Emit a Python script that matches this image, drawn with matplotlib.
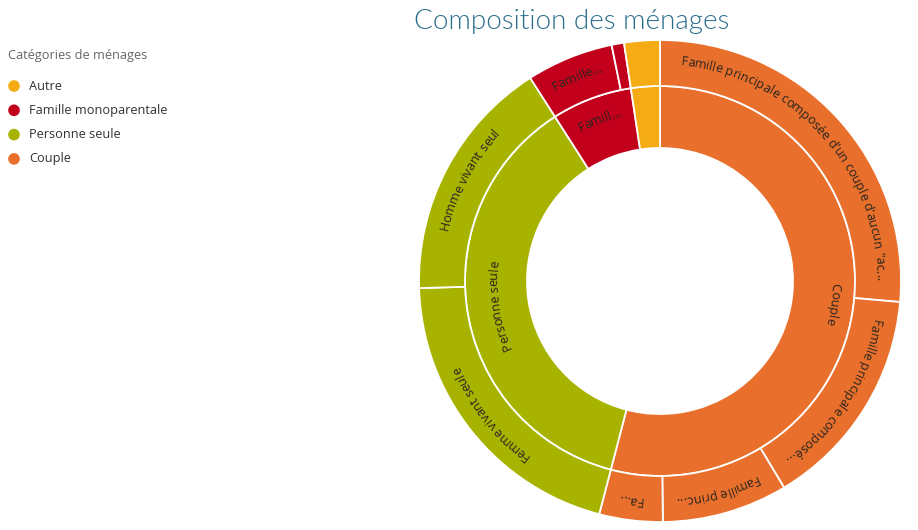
import numpy as np
import matplotlib
matplotlib.use("Agg")
import matplotlib.pyplot as plt
from matplotlib.font_manager import FontProperties, findfont, get_font
from matplotlib.textpath import TextToPath, TextPath
from matplotlib import _text_helpers

# ---------------- data ----------------
title = "Composition des ménages"
legend_title = "Catégories de ménages"
legend_labels = ["Autre", "Famille monoparentale", "Personne seule", "Couple"]

inner_labels = ["Couple", "Personne seule", "Famill...", ""]
inner_cats = ["Couple", "Personne seule", "Famille monoparentale", "Autre"]
inner_values = [54.06, 36.89, 6.66, 2.39]

outer_labels = [
    "Famille principale composée d'un couple d'aucun \"ac...",
    "Famille principale composé...",
    "Famille princ...",
    "Fa...",
    "Femme vivant seule",
    "Homme vivant seul",
    "Famille...",
    "",
    "",
]
outer_cats = ["Couple", "Couple", "Couple", "Couple",
              "Personne seule", "Personne seule",
              "Famille monoparentale", "Famille monoparentale", "Autre"]
outer_values = [26.39, 15.00, 8.42, 4.25, 20.47, 16.42, 5.83, 0.83, 2.39]

colors = {
    "Autre": "#F4AB14",
    "Famille monoparentale": "#C2001C",
    "Personne seule": "#A8B300",
    "Couple": "#E8702C",
}

# ---------------- figure ----------------
W, H = 918, 530
fig = plt.figure(figsize=(W / 100, H / 100), dpi=100)
ax = fig.add_axes([0, 0, 1, 1])

cx, cy = 660, H - 281
r_hole, r_mid, r_out = 133, 195, 241

ax.pie(inner_values, radius=r_mid, center=(cx, cy), startangle=90,
       counterclock=False, colors=[colors[c] for c in inner_cats],
       wedgeprops=dict(width=r_mid - r_hole, edgecolor="white", linewidth=1.3),
       frame=True)
ax.pie(outer_values, radius=r_out, center=(cx, cy), startangle=90,
       counterclock=False, colors=[colors[c] for c in outer_cats],
       wedgeprops=dict(width=r_out - r_mid, edgecolor="white", linewidth=1.3),
       frame=True)
ax.set_xlim(0, W)
ax.set_ylim(0, H)
ax.set_aspect("equal")
ax.axis("off")

# ---------------- curved labels ----------------
label_font = "Open Sans"
label_size = 9.2
prop = FontProperties(family=label_font, size=label_size)
px_per_pt = 100 / 72
ft = get_font(findfont(prop))
ft.set_size(TextToPath.FONT_SCALE, TextToPath.DPI)
scale = label_size / TextToPath.FONT_SCALE * px_per_pt


def glyph_layout(s):
    """Pen position, advance and left bearing (px) of each character."""
    items = list(_text_helpers.layout(s, ft))
    out = []
    total = 0.0
    for it in items:
        g = ft.load_glyph(it.glyph_idx)
        adv = g.linearHoriAdvance / 65536 * scale
        pen = it.x * scale
        lsb = 0.0
        if it.char.strip():
            ext = TextPath((0, 0), it.char, size=label_size, prop=prop).get_extents()
            lsb = ext.x0 * px_per_pt
        out.append((it.char, pen, adv, lsb))
        total = pen + adv
    return out, total


def curved_text(s, theta_mid_deg, r_center):
    chars, total = glyph_layout(s)
    r_base = r_center - 0.33 * label_size * px_per_pt
    start = np.radians(theta_mid_deg) - (total / 2) / r_center
    for ch, pen, adv, lsb in chars:
        if not ch.strip():
            continue
        th = start + (pen + adv / 2) / r_center
        px = cx + r_base * np.sin(th)
        py = cy + r_base * np.cos(th)
        rot = -th  # text rotation (radians, counter-clockwise)
        tx, ty = np.cos(rot), np.sin(rot)
        x = px - tx * adv / 2
        y = py - ty * adv / 2
        # Agg applies the glyph's left bearing unrotated; compensate
        x += lsb * (tx - 1.0)
        y += lsb * ty
        ax.text(x, y, ch, fontproperties=prop, color="#2a2420",
                rotation=np.degrees(rot) % 360, rotation_mode="anchor",
                ha="left", va="baseline")


def mids(values):
    tot = sum(values)
    cum = np.cumsum([0] + list(values[:-1]))
    return [360 * (c + v / 2) / tot for c, v in zip(cum, values)]


inner_r = [176, 166, 173, 165]
for lab, th, rr in zip(inner_labels, mids(inner_values), inner_r):
    if lab:
        curved_text(lab, th, rr)
for lab, th in zip(outer_labels, mids(outer_values)):
    if lab:
        curved_text(lab, th, 221)

# ---------------- title ----------------
ax.text(572, H - 21, title, fontsize=20, family="Lato", fontweight=300,
        color="#2B6E8C", ha="center", va="center")

# ---------------- legend ----------------
ax.text(8, H - 55, legend_title, fontsize=9.2, family="Open Sans",
        color="#666666", ha="left", va="center")
for i, lab in enumerate(legend_labels):
    y = H - (86 + 24.3 * i)
    ax.scatter([14], [y], s=70, color=colors[lab], edgecolors="none")
    ax.text(29, y, lab, fontsize=9.2, family="Open Sans", color="#333333",
            ha="left", va="center")

fig.savefig("out.png", dpi=100)
